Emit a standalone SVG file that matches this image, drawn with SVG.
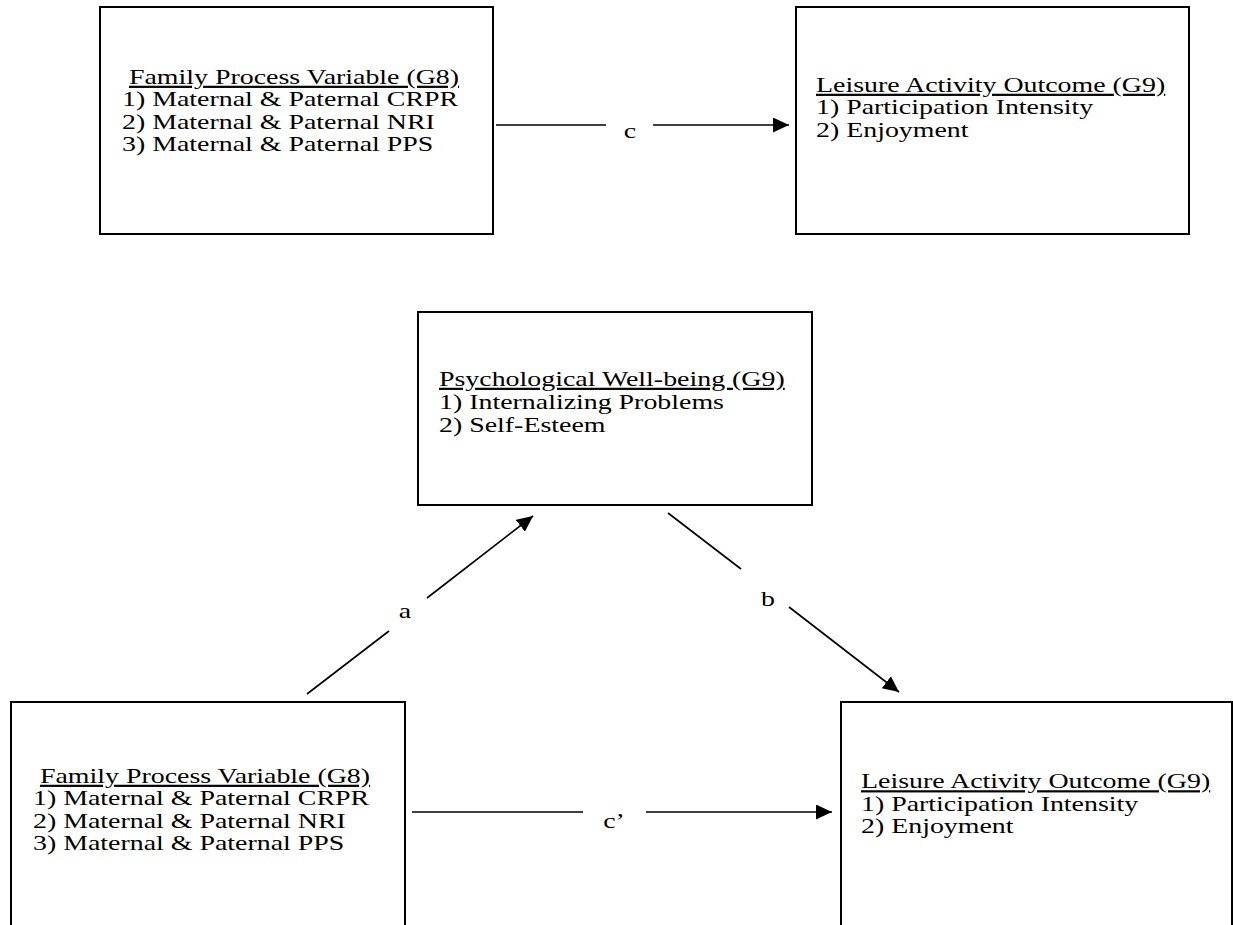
<svg xmlns="http://www.w3.org/2000/svg" width="1233" height="925" viewBox="0 0 1233 925">
<defs>
<style>
.box{fill:#fff;stroke:#000;stroke-width:2}
.t{font-family:"Liberation Serif","Times New Roman",serif;font-size:22px;fill:#000}
.u{text-decoration:underline}
.ln{stroke:#000;stroke-width:1.6;fill:none}
</style>
<marker id="ah" markerUnits="userSpaceOnUse" markerWidth="17" markerHeight="16" refX="16" refY="7.5" orient="auto">
<path d="M0,0 L16,7.5 L0,15 z" fill="#000"/>
</marker>
</defs>
<rect width="1233" height="925" fill="#fff"/>
<g id="fam1">
<rect class="box" x="100" y="7" width="393" height="227"/>
<text class="t" transform="translate(122,0) scale(1.268,1)"><tspan x="5.5" y="84" class="u">Family Process Variable (G8)</tspan><tspan x="0" y="106.5">1) Maternal &amp; Paternal CRPR</tspan><tspan x="0" y="129">2) Maternal &amp; Paternal NRI</tspan><tspan x="0" y="151.5">3) Maternal &amp; Paternal PPS</tspan></text>
</g>
<g id="leis1">
<rect class="box" x="796" y="7" width="393" height="227"/>
<text class="t" transform="translate(816,0) scale(1.268,1)"><tspan x="0" y="92" class="u">Leisure Activity Outcome (G9)</tspan><tspan x="0" y="114.5">1) Participation Intensity</tspan><tspan x="0" y="137">2) Enjoyment</tspan></text>
</g>
<g id="psych">
<rect class="box" x="418" y="312" width="394" height="193"/>
<text class="t" transform="translate(439,0) scale(1.268,1)"><tspan x="0" y="386" class="u">Psychological Well-being (G9)</tspan><tspan x="0" y="409">1) Internalizing Problems</tspan><tspan x="0" y="432">2) Self-Esteem</tspan></text>
</g>
<g id="fam2">
<rect class="box" x="11" y="702" width="394" height="260"/>
<text class="t" transform="translate(33,0) scale(1.268,1)"><tspan x="5.5" y="783" class="u">Family Process Variable (G8)</tspan><tspan x="0" y="805.5">1) Maternal &amp; Paternal CRPR</tspan><tspan x="0" y="828">2) Maternal &amp; Paternal NRI</tspan><tspan x="0" y="850.5">3) Maternal &amp; Paternal PPS</tspan></text>
</g>
<g id="leis2">
<rect class="box" x="841" y="702" width="391" height="260"/>
<text class="t" transform="translate(861,0) scale(1.268,1)"><tspan x="0" y="788.5" class="u">Leisure Activity Outcome (G9)</tspan><tspan x="0" y="811">1) Participation Intensity</tspan><tspan x="0" y="833.5">2) Enjoyment</tspan></text>
</g>
<g id="connectors">
<line class="ln" x1="496" y1="125" x2="606" y2="125"/>
<line class="ln" x1="653" y1="125" x2="789" y2="125" marker-end="url(#ah)"/>
<text class="t" text-anchor="middle" transform="translate(630,0) scale(1.268,1)"><tspan x="0" y="138">c</tspan></text>
<line class="ln" x1="412" y1="812" x2="583" y2="812"/>
<line class="ln" x1="646" y1="812" x2="832" y2="812" marker-end="url(#ah)"/>
<text class="t" text-anchor="middle" transform="translate(614,0) scale(1.268,1)"><tspan x="0" y="828">c’</tspan></text>
<line class="ln" x1="307" y1="694" x2="389" y2="631"/>
<line class="ln" x1="427" y1="598" x2="533" y2="516" marker-end="url(#ah)"/>
<text class="t" text-anchor="middle" transform="translate(405,0) scale(1.268,1)"><tspan x="0" y="618">a</tspan></text>
<line class="ln" x1="668" y1="513" x2="741" y2="569"/>
<line class="ln" x1="789" y1="607" x2="899" y2="692" marker-end="url(#ah)"/>
<text class="t" text-anchor="middle" transform="translate(768,0) scale(1.268,1)"><tspan x="0" y="606">b</tspan></text>
</g>
</svg>
